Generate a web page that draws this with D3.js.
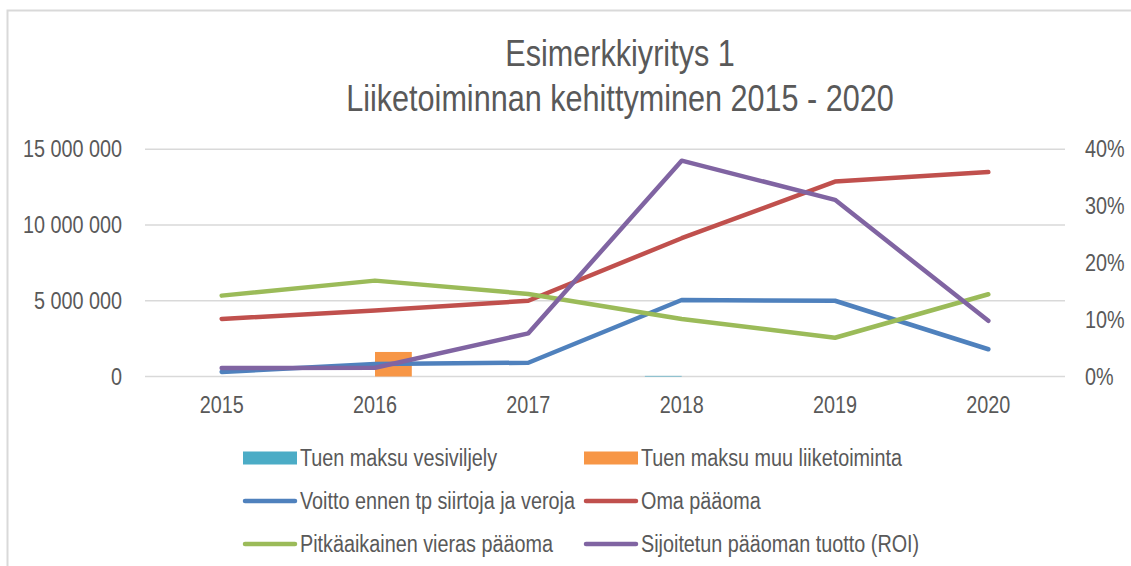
<html>

<head>
  <meta charset="utf-8">
  <title>Esimerkkiyritys 1</title>
  <script type="text/javascript" src="https://cdn.jsdelivr.net/npm/d3@7"></script>
  <style>
    body { margin: 0; background: #fff; }
    text { font-family: "Liberation Sans", Arial, sans-serif; fill: #595959; }
  </style>
</head>

<body>
  <script type="text/javascript">
    // Data
    const years = ["2015", "2016", "2017", "2018", "2019", "2020"];
    const tuenMaksuVesi = [0, 0, 0, 40000, 0, 0];
    const tuenMaksuMuu = [0, 1620000, 0, 0, 0, 0];
    const voitto = [300000, 830000, 910000, 5050000, 5000000, 1800000];
    const omaPaaoma = [3800000, 4350000, 5000000, 9130000, 12870000, 13500000];
    const pitkaVieras = [5340000, 6330000, 5450000, 3800000, 2560000, 5430000];
    const roi = [0.015, 0.0155, 0.076, 0.38, 0.311, 0.098];
    const leftTicks = [0, 5000000, 10000000, 15000000];
    const rightTicks = [0, 0.1, 0.2, 0.3, 0.4];

    const w = 1131;
    const h = 566;
    const m = { left: 145, right: 1065, top: 149.3, bottom: 376.5 };

    const svg = d3.select("body")
      .append("svg")
      .attr("width", w)
      .attr("height", h);

    // reunus (vain vasen ja ylä näkyy)
    svg.append("path")
      .attr("d", "M7.5," + h + "V10.5H" + w)
      .attr("fill", "none")
      .attr("stroke", "#d9d9d9")
      .attr("stroke-width", 2);

    // Otsikko
    const title = svg.append("text")
      .attr("class", "title")
      .attr("text-anchor", "middle")
      .attr("font-size", 36);
    title.append("tspan").attr("x", 620).attr("y", 66).text("Esimerkkiyritys 1");
    title.append("tspan").attr("x", 620).attr("y", 111).text("Liiketoiminnan kehittyminen 2015 - 2020");

    // Skaalat
    const x = d3.scaleBand()
      .domain(years)
      .range([m.left, m.right])
      .paddingInner(0.52)
      .paddingOuter(0.26);

    const xSub = d3.scaleBand()
      .domain(["vesi", "muu"])
      .range([0, x.bandwidth()]);

    const y = d3.scaleLinear()
      .domain([0, 15000000])
      .range([m.bottom, m.top]);

    const y2 = d3.scaleLinear()
      .domain([0, 0.4])
      .range([m.bottom, m.top]);

    const fiLocale = d3.formatLocale({ decimal: ",", thousands: " ", grouping: [3], currency: ["", " €"] });
    const fmt = fiLocale.format(",");
    const pct = d3.format(".0%");

    // Ruudukko
    svg.append("g")
      .selectAll("line")
      .data(leftTicks)
      .enter()
      .append("line")
      .attr("x1", m.left)
      .attr("x2", m.right)
      .attr("y1", d => y(d))
      .attr("y2", d => y(d))
      .attr("stroke", "#d9d9d9")
      .attr("stroke-width", 1.5);

    // Vasen akseli
    svg.append("g")
      .selectAll("text")
      .data(leftTicks)
      .enter()
      .append("text")
      .attr("x", 122)
      .attr("y", d => y(d))
      .attr("dy", "0.35em")
      .attr("text-anchor", "end")
      .attr("font-size", 23)
      .text(d => fmt(d));

    // Oikea akseli
    svg.append("g")
      .selectAll("text")
      .data(rightTicks)
      .enter()
      .append("text")
      .attr("x", 1085)
      .attr("y", d => y2(d))
      .attr("dy", "0.35em")
      .attr("text-anchor", "start")
      .attr("font-size", 23)
      .text(d => pct(d));

    // X-akseli
    svg.append("g")
      .selectAll("text")
      .data(years)
      .enter()
      .append("text")
      .attr("x", d => x(d) + x.bandwidth() / 2)
      .attr("y", 413)
      .attr("text-anchor", "middle")
      .attr("font-size", 23)
      .text(d => d);

    // Pylväät
    const barSeries = [
      { key: "vesi", values: tuenMaksuVesi, color: "#4bacc6" },
      { key: "muu", values: tuenMaksuMuu, color: "#f79646" }
    ];
    barSeries.forEach(function (s) {
      svg.append("g")
        .selectAll("rect")
        .data(s.values)
        .enter()
        .append("rect")
        .attr("x", (d, i) => x(years[i]) + xSub(s.key))
        .attr("y", d => y(d))
        .attr("width", xSub.bandwidth())
        .attr("height", d => y(0) - y(d))
        .attr("fill", s.color);
    });

    // Viivat
    const lineSeries = [
      { values: voitto, scale: y, color: "#4f81bd" },
      { values: omaPaaoma, scale: y, color: "#c0504d" },
      { values: pitkaVieras, scale: y, color: "#9bbb59" },
      { values: roi, scale: y2, color: "#8064a2" }
    ];
    lineSeries.forEach(function (s) {
      const line = d3.line()
        .x((d, i) => x(years[i]) + x.bandwidth() / 2)
        .y(d => s.scale(d));
      svg.append("path")
        .datum(s.values)
        .attr("d", line)
        .attr("fill", "none")
        .attr("stroke", s.color)
        .attr("stroke-width", 4.5)
        .attr("stroke-linejoin", "round")
        .attr("stroke-linecap", "round");
    });

    // Selite
    const legendItems = [
      { name: "Tuen maksu vesiviljely", color: "#4bacc6", type: "bar" },
      { name: "Tuen maksu muu liiketoiminta", color: "#f79646", type: "bar" },
      { name: "Voitto ennen tp siirtoja ja veroja", color: "#4f81bd", type: "line" },
      { name: "Oma pääoma", color: "#c0504d", type: "line" },
      { name: "Pitkäaikainen vieras pääoma", color: "#9bbb59", type: "line" },
      { name: "Sijoitetun pääoman tuotto (ROI)", color: "#8064a2", type: "line" }
    ];
    const legend = svg.append("g")
      .selectAll("g")
      .data(legendItems)
      .enter()
      .append("g")
      .attr("transform", (d, i) => "translate(" + (i % 2 === 0 ? 243 : 584) + "," + (458 + Math.floor(i / 2) * 43) + ")");

    legend.filter(d => d.type === "bar")
      .append("rect")
      .attr("x", 0)
      .attr("y", -6.5)
      .attr("width", 54)
      .attr("height", 13)
      .attr("fill", d => d.color);

    legend.filter(d => d.type === "line")
      .append("line")
      .attr("x1", 2)
      .attr("x2", 52)
      .attr("y1", 0)
      .attr("y2", 0)
      .attr("stroke", d => d.color)
      .attr("stroke-width", 4.5)
      .attr("stroke-linecap", "round");

    legend.append("text")
      .attr("x", 57)
      .attr("y", 0)
      .attr("dy", "0.35em")
      .attr("font-size", 23)
      .text(d => d.name);

    // Kapeampi kirjasin: puristetaan tekstit vaakasuunnassa
    svg.selectAll("text, tspan").each(function () {
      if (this.tagName === "text" && this.querySelector("tspan")) return;
      const k = this.tagName === "tspan" ? 0.85 : 0.86;
      const len = this.getComputedTextLength();
      d3.select(this)
        .attr("textLength", len * k)
        .attr("lengthAdjust", "spacingAndGlyphs");
    });
  </script>
</body>

</html>
